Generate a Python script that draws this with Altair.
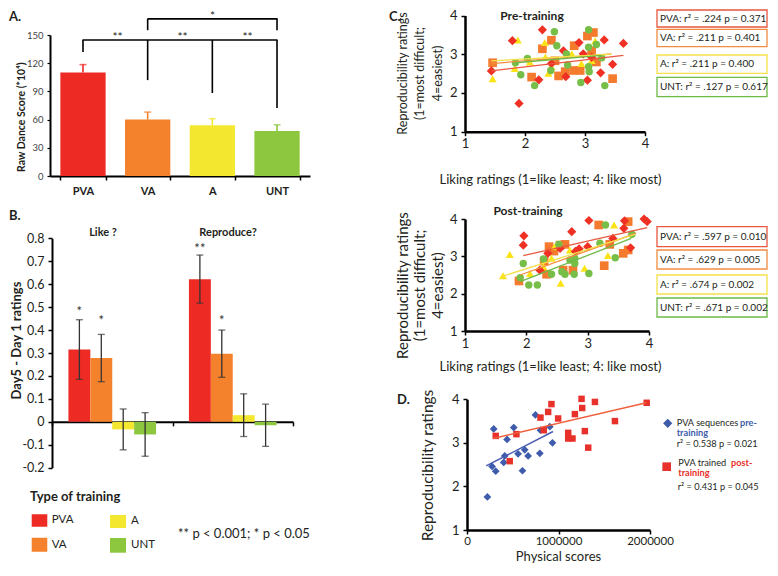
import altair as alt
import pandas as pd

FONT = "Lato"
INK = "#231f20"
W, H = 760, 556

TYPES = ["PVA", "VA", "A", "UNT"]
BAR_COLORS = ["#ED2A24", "#F4812B", "#F3E72F", "#8DC63F"]
PT_COLORS = ["#EE3124", "#F47A2E", "#FBE318", "#76BE48"]
LINE_COLORS = ["#E8573E", "#F28C40", "#F3E04A", "#6DBA45"]
SHAPES = ["diamond", "square", "triangle-up", "circle"]

# ---------------- Panel A: raw dance score (*10^4) ----------------
a_means = [110, 60, 54, 48]
a_errs = [8.5, 8.0, 7.0, 6.5]
a_lower_level = 144.7
a_lower_drops = [131.9, 102, 88.3, 72.3]
a_upper_cats = ["VA", "UNT"]
a_upper_level = 167.2
a_upper_drop = 155.1
a_star_cats = ["PVA", "VA", "A"]
a_star_y = 148.3
a_top_star_y = 170.5

# ---------------- Panel B: Day5 - Day1 ratings ----------------
b_questions = ["Like ?", "Reproduce?"]
b_like_means = [0.315, 0.278, -0.033, -0.055]
b_like_errs = [0.13, 0.103, 0.089, 0.095]
b_repro_means = [0.622, 0.297, 0.029, -0.015]
b_repro_errs = [0.105, 0.103, 0.093, 0.092]
b_star_q = ["Like ?", "Like ?", "Reproduce?", "Reproduce?"]
b_star_type = ["PVA", "VA", "PVA", "VA"]
b_star_text = ["*", "*", "**", "*"]
b_star_y = [0.48, 0.44, 0.755, 0.44]

# ---------------- Panel C: pre-training ----------------
pre_pva_x = [2.29, 1.79, 1.44, 1.90, 2.23, 2.64, 2.90, 2.97, 3.04, 3.32, 3.64, 3.46, 3.26, 2.68, 2.44, 3.11]
pre_pva_y = [3.63, 3.35, 2.57, 1.73, 2.34, 3.09, 3.30, 3.01, 2.33, 3.37, 3.28, 2.74, 2.52, 2.42, 2.76, 2.92]
pre_va_x = [1.46, 2.11, 2.29, 2.44, 2.50, 2.56, 2.67, 2.82, 2.81, 2.92, 3.04, 3.14, 3.11, 3.46, 3.19]
pre_va_y = [2.78, 2.41, 3.14, 3.36, 2.83, 2.44, 2.55, 3.22, 2.58, 2.58, 3.47, 3.56, 3.09, 2.37, 2.80]
pre_a_x = [1.88, 1.46, 2.33, 2.34, 2.44, 2.39, 2.78, 2.94, 3.17, 3.11, 2.08, 1.83]
pre_a_y = [3.37, 2.37, 3.30, 2.93, 2.68, 2.51, 3.01, 2.76, 3.35, 2.84, 2.80, 2.63]
pre_unt_x = [2.49, 2.53, 1.84, 2.04, 1.93, 2.16, 2.43, 2.69, 2.71, 2.93, 3.06, 3.06, 3.19, 3.06, 3.07, 3.28, 3.33]
pre_unt_y = [3.58, 3.22, 2.78, 2.89, 2.47, 2.19, 2.58, 3.01, 2.72, 2.27, 3.63, 3.18, 3.25, 2.68, 2.55, 2.91, 2.19]
pre_fit_x0 = [1.44, 1.44, 1.44, 1.84]
pre_fit_y0 = [2.57, 2.76, 2.83, 2.78]
pre_fit_x1 = [3.64, 3.44, 3.44, 3.28]
pre_fit_y1 = [2.97, 3.01, 3.00, 2.97]
pre_stats = ["PVA: r\u00b2 = .224  p = 0.371", "VA: r\u00b2 = .211  p = 0.401",
             "A: r\u00b2 = .211  p = 0.400", "UNT: r\u00b2 = .127  p = 0.617"]

# ---------------- Panel C: post-training ----------------
post_pva_x = [1.96, 1.95, 2.74, 3.02, 3.60, 3.59, 3.92, 3.97, 3.70, 3.00, 2.86, 2.80, 2.35, 2.22, 3.41, 2.55]
post_pva_y = [3.55, 3.30, 3.66, 3.96, 3.95, 3.75, 4.00, 3.93, 3.23, 3.26, 3.20, 3.13, 3.08, 2.63, 3.48, 3.21]
post_va_x = [2.37, 2.45, 2.55, 2.63, 3.18, 3.66, 3.36, 3.27, 3.58, 3.66, 2.60, 2.76, 2.33, 1.88, 2.29]
post_va_y = [3.26, 3.14, 3.30, 3.32, 3.84, 3.93, 3.32, 2.75, 3.08, 3.17, 2.63, 2.63, 2.52, 2.34, 2.87]
post_a_x = [1.73, 1.62, 2.06, 2.41, 2.56, 2.95, 3.33, 3.43, 2.71, 3.43, 2.28, 2.46]
post_a_y = [3.05, 2.48, 2.54, 2.95, 2.28, 2.68, 3.02, 3.84, 3.17, 3.50, 2.72, 3.26]
post_unt_x = [3.29, 3.72, 1.95, 2.28, 2.53, 2.71, 2.79, 2.79, 2.58, 2.63, 2.41, 2.78, 3.02, 3.45, 1.90, 2.04, 2.18, 3.20]
post_unt_y = [3.84, 3.59, 2.81, 2.93, 3.32, 2.90, 2.95, 2.81, 2.59, 2.52, 2.52, 2.52, 2.54, 2.96, 2.43, 2.23, 2.23, 3.35]
post_fit_x0 = [1.95, 1.90, 1.60, 1.90]
post_fit_y0 = [3.02, 2.50, 2.46, 2.32]
post_fit_x1 = [3.97, 3.79, 3.77, 3.71]
post_fit_y1 = [3.77, 3.62, 3.59, 3.48]
post_stats = ["PVA: r\u00b2 = .597   p = 0.010", "VA: r\u00b2 = .629   p = 0.005",
              "A: r\u00b2 = .674   p = 0.002", "UNT: r\u00b2 = .671   p = 0.002"]

# ---------------- Panel D: physical scores ----------------
d_pre_x = [292000, 412000, 511000, 438000, 274000, 314000, 401000, 558000, 631000, 668000,
           606000, 748000, 803000, 796000, 905000, 934000, 223000]
d_pre_y = [3.32, 2.70, 3.35, 3.08, 2.46, 2.35, 2.55, 2.75, 2.84, 2.70,
           2.36, 3.64, 3.29, 2.76, 3.37, 3.00, 1.76]
d_post_x = [314000, 540000, 467000, 803000, 839000, 887000, 923000, 996000, 1106000, 1106000,
            1153000, 1179000, 1252000, 1259000, 1288000, 1325000, 1398000, 1617000, 1964000]
d_post_y = [3.16, 3.20, 2.58, 3.58, 3.29, 3.71, 3.89, 3.56, 3.23, 3.10,
            3.10, 3.66, 4.01, 3.80, 3.27, 2.89, 3.94, 3.50, 3.92]
d_groups = ["pre", "post"]
d_fit_x0 = [210000, 285000]
d_fit_y0 = [2.47, 3.10]
d_fit_x1 = [940000, 1960000]
d_fit_y1 = [3.26, 3.92]
D_COLORS = ["#3E5CAB", "#E8312A"]
D_LINE_COLORS = ["#4A5DB2", "#F0603F"]

ONE = pd.DataFrame({"k": [0]})


def T(s, x, y, size=11, weight="normal", color=INK, align="left", baseline="middle"):
    return alt.Chart(ONE).mark_text(
        text=s, font=FONT, fontSize=size, fontWeight=weight, color=color,
        align=align, baseline=baseline
    ).encode(x=alt.value(x), y=alt.value(y))


def BOX(x0, y0, x1, y1, stroke):
    return alt.Chart(ONE).mark_rect(fill="white", stroke=stroke, strokeWidth=1.3).encode(
        x=alt.value(x0), x2=alt.value(x1), y=alt.value(y0), y2=alt.value(y1))


def SWATCH(x0, y0, x1, y1, color):
    return alt.Chart(ONE).mark_rect(color=color).encode(
        x=alt.value(x0), x2=alt.value(x1), y=alt.value(y0), y2=alt.value(y1))


def SYM(shape, x, y, size, color):
    return alt.Chart(ONE).mark_point(shape=shape, filled=True, size=size, color=color, opacity=1).encode(
        x=alt.value(x), y=alt.value(y))


def axis(**kw):
    base = dict(labelFont=FONT, titleFont=FONT, labelColor=INK, titleColor=INK,
                domainColor="black", tickColor="black", grid=False,
                labelFlush=False, labelOverlap=False)
    base.update(kw)
    return alt.Axis(**base)


layers = []

# ================= Panel A =================
dfA = pd.DataFrame({"type": TYPES, "mean": a_means, "err": a_errs})
dfA["top"] = dfA["mean"] + dfA["err"]
xA = alt.Scale(domain=TYPES, range=[42, 302], paddingInner=0.3, paddingOuter=0.16)
yA = alt.Scale(domain=[0, 150], range=[168, 27], nice=False)
cA = alt.Scale(domain=TYPES, range=BAR_COLORS)
axAx = axis(orient="bottom", offset=168 - H, title=None, labelFontSize=11, labelFontWeight="bold",
            labelAngle=0, labelPadding=5, domainWidth=2, tickWidth=1.5, tickSize=4, tickBand="extent")
axAy = axis(orient="left", offset=-42, values=[0, 30, 60, 90, 120, 150],
            title="Raw Dance Score (*10\u2074)", titleFontSize=10.5, titleFontWeight="bold",
            titleX=-28.3, titleY=108.7, titleAlign="center", titleBaseline="middle", titleAngle=270,
            labelFontSize=9.5, labelColor="#444444", labelPadding=4, tickSize=3, tickWidth=1.2,
            domainWidth=2)


def XA(f, ax=None):
    return alt.X(f, scale=xA, sort=TYPES, axis=ax)


layers.append(alt.Chart(dfA).mark_bar().encode(
    x=XA("type:N", axAx), y=alt.Y("mean:Q", scale=yA, axis=axAy), y2=alt.datum(0),
    color=alt.Color("type:N", scale=cA, legend=None)))
layers.append(alt.Chart(dfA).mark_rule(strokeWidth=1.6).encode(
    x=XA("type:N"), y=alt.Y("mean:Q", scale=yA, axis=None), y2="top:Q",
    color=alt.Color("type:N", scale=cA, legend=None)))
layers.append(alt.Chart(dfA).mark_tick(thickness=1.6, size=7).encode(
    x=XA("type:N"), y=alt.Y("top:Q", scale=yA, axis=None),
    color=alt.Color("type:N", scale=cA, legend=None)))
dfBrH = pd.DataFrame({"seg": [0, 0, 1, 1],
                      "cat": [TYPES[0], TYPES[3], a_upper_cats[0], a_upper_cats[1]],
                      "y": [a_lower_level, a_lower_level, a_upper_level, a_upper_level]})
layers.append(alt.Chart(dfBrH).mark_line(color="black", strokeWidth=1.6).encode(
    x=XA("cat:N"), y=alt.Y("y:Q", scale=yA, axis=None), detail="seg:N"))
dfBrV = pd.DataFrame({"cat": TYPES + a_upper_cats,
                      "y1": [a_lower_level] * 4 + [a_upper_level] * 2,
                      "y2": a_lower_drops + [a_upper_drop] * 2})
layers.append(alt.Chart(dfBrV).mark_rule(color="black", strokeWidth=1.6).encode(
    x=XA("cat:N"), y=alt.Y("y1:Q", scale=yA, axis=None), y2="y2:Q"))
dfStA = pd.DataFrame({"cat": a_star_cats, "y": [a_star_y] * 3, "t": ["**"] * 3})
layers.append(alt.Chart(dfStA).mark_text(font=FONT, fontSize=12, color=INK, dx=35, baseline="middle").encode(
    x=XA("cat:N"), y=alt.Y("y:Q", scale=yA, axis=None), text="t:N"))
dfStA2 = pd.DataFrame({"cat": ["A"], "y": [a_top_star_y], "t": ["*"]})
layers.append(alt.Chart(dfStA2).mark_text(font=FONT, fontSize=12, color=INK, baseline="middle").encode(
    x=XA("cat:N"), y=alt.Y("y:Q", scale=yA, axis=None), text="t:N"))

# ================= Panel B =================
recB = []
for q, ms, es in [(b_questions[0], b_like_means, b_like_errs), (b_questions[1], b_repro_means, b_repro_errs)]:
    for t, m, e in zip(TYPES, ms, es):
        recB.append({"q": q, "type": t, "mean": m, "lo": m - e, "hi": m + e})
dfB = pd.DataFrame(recB)
xB = alt.Scale(domain=b_questions, range=[44, 285], paddingInner=0, paddingOuter=0)
xoB = alt.Scale(domain=TYPES, paddingInner=0, paddingOuter=0.75)
yB = alt.Scale(domain=[-0.2, 0.8], range=[459.7, 230.3], nice=False)
cB = alt.Scale(domain=TYPES, range=BAR_COLORS)
axBx = axis(orient="bottom", offset=413.8 - H, title=None, labels=False, domainWidth=2,
            tickWidth=1.5, tickSize=4, tickBand="extent")
axBy = axis(orient="left", offset=-44,
            values=[-0.2, -0.1, 0, 0.1, 0.2, 0.3, 0.4, 0.5, 0.6, 0.7, 0.8],
            labelExpr="datum.value == 0 ? '0' : replace(format(datum.value, '.1f'), '\u2212', '-')",
            title="Day5 - Day 1 ratings", titleFontSize=13, titleFontWeight="bold",
            titleX=-35.5, titleY=332, titleAlign="center", titleBaseline="middle", titleAngle=270,
            labelFontSize=12.5, labelPadding=4, tickSize=4, tickWidth=1.5, domainWidth=2)


def XB(ax=None):
    return alt.X("q:N", scale=xB, sort=b_questions, axis=ax)


XOB = alt.XOffset("type:N", scale=xoB, sort=TYPES)
layers.append(alt.Chart(dfB).mark_bar().encode(
    x=XB(axBx), xOffset=XOB, y=alt.Y("mean:Q", scale=yB, axis=axBy), y2=alt.datum(0),
    color=alt.Color("type:N", scale=cB, legend=None)))
layers.append(alt.Chart(dfB).mark_rule(color="#333333", strokeWidth=1.3).encode(
    x=XB(), xOffset=XOB, y=alt.Y("lo:Q", scale=yB, axis=None), y2="hi:Q"))
for fld in ["hi", "lo"]:
    layers.append(alt.Chart(dfB).mark_tick(color="#333333", thickness=1.3, size=7).encode(
        x=XB(), xOffset=XOB, y=alt.Y(fld + ":Q", scale=yB, axis=None)))
dfStB = pd.DataFrame({"q": b_star_q, "type": b_star_type, "t": b_star_text, "y": b_star_y})
layers.append(alt.Chart(dfStB).mark_text(font=FONT, fontSize=13, color="#333333", baseline="middle").encode(
    x=XB(), xOffset=XOB, y=alt.Y("y:Q", scale=yB, axis=None), text="t:N"))


# ================= Panel C =================
def c_panel(groups_xy, fit, x_range, y_range, y_title_y, y_title_size, x_title_y):
    order = ["VA", "A", "PVA", "UNT"]
    rows = []
    for t in order:
        xs, ys = groups_xy[t]
        for xv, yv in zip(xs, ys):
            rows.append({"type": t, "x": xv, "y": yv, "ord": order.index(t)})
    df = pd.DataFrame(rows)
    dfit = pd.DataFrame({"type": TYPES, "x0": fit[0], "y0": fit[1], "x1": fit[2], "y1": fit[3]})
    xs_ = alt.Scale(domain=[1, 4], range=x_range, nice=False, zero=False)
    ys_ = alt.Scale(domain=[1, 4], range=y_range, nice=False, zero=False)
    ax_x = axis(orient="bottom", offset=y_range[0] - H, values=[1, 2, 3, 4], format="d",
                title="Liking ratings (1=like least; 4: like most)", titleFontSize=13,
                titleFontWeight="normal", titleX=542, titleY=x_title_y, titleAlign="center",
                titleBaseline="middle", labelFontSize=13, labelPadding=2, tickSize=4,
                tickWidth=1.5, domainWidth=2.5)
    ax_y = axis(orient="left", offset=-457, values=[1, 2, 3, 4], format="d",
                title=["Reproducibility ratings", "(1=most difficult;", "4=easiest)"],
                titleFontSize=y_title_size, titleFontWeight="normal", titleLineHeight=17.5,
                titleX=-63, titleY=y_title_y, titleAlign="center", titleBaseline="middle",
                titleAngle=270, labelFontSize=13, labelPadding=4, tickSize=4, tickWidth=1.5,
                domainWidth=2.5)
    pts = alt.Chart(df).mark_point(filled=True, opacity=1).encode(
        x=alt.X("x:Q", scale=xs_, axis=ax_x), y=alt.Y("y:Q", scale=ys_, axis=ax_y),
        color=alt.Color("type:N", scale=alt.Scale(domain=TYPES, range=PT_COLORS), legend=None),
        shape=alt.Shape("type:N", scale=alt.Scale(domain=TYPES, range=SHAPES), legend=None),
        size=alt.Size("type:N", scale=alt.Scale(domain=TYPES, range=[85, 55, 50, 62]), legend=None),
        order=alt.Order("ord:Q"))
    lines = alt.Chart(dfit).mark_rule(strokeWidth=1.3).encode(
        x=alt.X("x0:Q", scale=xs_, axis=None), x2="x1:Q",
        y=alt.Y("y0:Q", scale=ys_, axis=None), y2="y1:Q",
        stroke=alt.Stroke("type:N", scale=alt.Scale(domain=TYPES, range=LINE_COLORS), legend=None))
    return [pts, lines]


layers += c_panel(
    {"PVA": (pre_pva_x, pre_pva_y), "VA": (pre_va_x, pre_va_y),
     "A": (pre_a_x, pre_a_y), "UNT": (pre_unt_x, pre_unt_y)},
    (pre_fit_x0, pre_fit_y0, pre_fit_x1, pre_fit_y1),
    [457, 637], [123.7, 7.5], 65, 12.5, 47.3)
layers += c_panel(
    {"PVA": (post_pva_x, post_pva_y), "VA": (post_va_x, post_va_y),
     "A": (post_a_x, post_a_y), "UNT": (post_unt_x, post_unt_y)},
    (post_fit_x0, post_fit_y0, post_fit_x1, post_fit_y1),
    [457, 641], [323, 211], 277, 15, 35)

# ================= Panel D =================
dfD = pd.DataFrame({"g": ["pre"] * len(d_pre_x) + ["post"] * len(d_post_x),
                    "x": d_pre_x + d_post_x, "y": d_pre_y + d_post_y})
dfDfit = pd.DataFrame({"g": d_groups, "x0": d_fit_x0, "y0": d_fit_y0, "x1": d_fit_x1, "y1": d_fit_y1})
xD = alt.Scale(domain=[0, 2000000], range=[459, 642], nice=False, zero=False)
yD = alt.Scale(domain=[1, 4], range=[522, 391.3], nice=False, zero=False)
axDx = axis(orient="bottom", offset=522 - H, values=[0, 1000000, 2000000], format="d",
            title="Physical scores", titleFontSize=13, titleFontWeight="normal", titleX=550, titleY=26,
            titleAlign="center", titleBaseline="middle", labelFontSize=11.5, labelPadding=1,
            tickSize=4, tickWidth=1.5, domainWidth=2.5)
axDy = axis(orient="left", offset=-459, values=[1, 2, 3, 4], format="d",
            title="Reproducibility ratings", titleFontSize=15.5, titleFontWeight="normal",
            titleX=-40, titleY=457, titleAlign="center", titleBaseline="middle", titleAngle=270,
            labelFontSize=13, labelPadding=4, tickSize=4, tickWidth=1.5, domainWidth=2.5)
layers.append(alt.Chart(dfD).mark_point(filled=True, opacity=1).encode(
    x=alt.X("x:Q", scale=xD, axis=axDx), y=alt.Y("y:Q", scale=yD, axis=axDy),
    color=alt.Color("g:N", scale=alt.Scale(domain=d_groups, range=D_COLORS), legend=None),
    shape=alt.Shape("g:N", scale=alt.Scale(domain=d_groups, range=["diamond", "square"]), legend=None),
    size=alt.Size("g:N", scale=alt.Scale(domain=d_groups, range=[60, 42]), legend=None)))
layers.append(alt.Chart(dfDfit).mark_rule(strokeWidth=1.5).encode(
    x=alt.X("x0:Q", scale=xD, axis=None), x2="x1:Q",
    y=alt.Y("y0:Q", scale=yD, axis=None), y2="y1:Q",
    stroke=alt.Stroke("g:N", scale=alt.Scale(domain=d_groups, range=D_LINE_COLORS), legend=None)))

# ================= Annotations =================
ann = [
    T("A.", 1, 9, 13, "bold"),
    T("B.", 1, 208, 13, "bold"),
    T("C.", 381, 9, 13, "bold"),
    T("D.", 389, 392, 13, "bold"),
    T("Like ?", 95, 225, 11, "bold", align="center"),
    T("Reproduce?", 220, 225, 11, "bold", align="center"),
    T("Type of training", 22, 489, 13, "bold"),
    T("** p < 0.001; * p < 0.05", 170, 526, 13),
    T("Pre-training", 524, 8, 12, "bold", align="center"),
    T("Post-training", 520, 202.7, 12, "bold", align="center"),
]
sw = [(23.7, 506.3, 39.3, 518.7, 0, 43.7, 512), (23.7, 529.7, 39.3, 543.7, 1, 43.7, 537),
      (102, 507, 118, 520, 2, 123, 513), (102, 530, 118, 544.7, 3, 123, 537)]
for x0, y0, x1, y1, i, tx, ty in sw:
    ann.append(SWATCH(x0, y0, x1, y1, BAR_COLORS[i]))
    ann.append(T(TYPES[i], tx, ty, 11.5))

pre_boxes = [(2, 19), (21.3, 38.7), (47, 65.3), (69.3, 88.7)]
post_boxes = [(218.7, 238.7), (242, 261), (267, 286), (290, 309)]
for stats, boxes in [(pre_stats, pre_boxes), (post_stats, post_boxes)]:
    for i, (y0, y1) in enumerate(boxes):
        ann.append(BOX(649, y0, 759, y1, LINE_COLORS[i]))
        ann.append(T(stats[i], 652, (y0 + y1) / 2, 10))

ann += [
    SYM("diamond", 659.7, 415.3, 85, D_COLORS[0]),
    T("PVA sequences", 668.7, 414.7, 9.2),
    T("pre-", 732, 414.7, 9.2, "bold", D_COLORS[0]),
    T("training", 668.7, 425.3, 9.2, "bold", D_COLORS[0]),
    T("r\u00b2 = 0.538   p = 0.021", 668.7, 435.5, 9.2),
    SYM("square", 658.7, 458.7, 75, D_COLORS[1]),
    T("PVA trained", 670.3, 454.7, 9.2),
    T("post-", 723, 454.7, 9.2, "bold", D_COLORS[1]),
    T("training", 670.3, 465.3, 9.2, "bold", D_COLORS[1]),
    T("r\u00b2 = 0.431   p = 0.045", 669.7, 479.3, 9.2),
]

chart = alt.layer(*layers, *ann).resolve_scale(
    x="independent", y="independent", color="independent", shape="independent",
    size="independent", stroke="independent"
).resolve_axis(x="independent", y="independent").properties(
    width=W, height=H, padding=0, autosize=alt.AutoSizeParams(type="none")
).configure_view(stroke=None).configure_axis(grid=False)

chart.save("out.html", embed_options={"renderer": "svg", "actions": False})
